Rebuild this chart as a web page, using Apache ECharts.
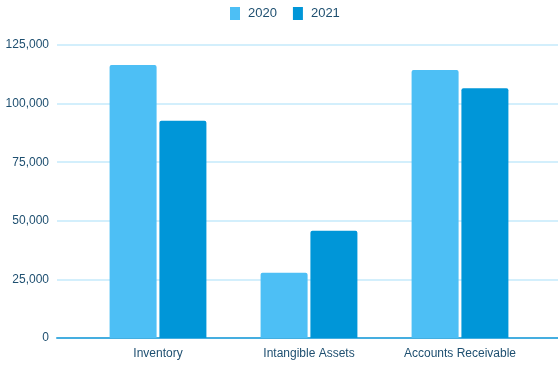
<!DOCTYPE html>
<html>
<head>
<meta charset="utf-8">
<script src="https://cdn.jsdelivr.net/npm/echarts@6/dist/echarts.min.js"></script>
<style>html,body{margin:0;padding:0;background:#fff}#c{width:558px;height:367px}</style>
</head>
<body>
<div id="c"></div>
<script>
var categories = ['Inventory', 'Intangible Assets', 'Accounts Receivable'];
var values2020 = [116500, 27800, 114300];
var values2021 = [92700, 45800, 106500];
var seriesNames = ['2020', '2021'];
var yTicks = { min: 0, max: 125000, interval: 25000 };

var labelColor = '#1e4f70';
var font = 'Liberation Sans, Arial, sans-serif';
var chart = echarts.init(document.getElementById('c'), null, { renderer: 'canvas' });
function fmt(v) { return String(v).replace(/\B(?=(\d{3})+(?!\d))/g, ','); }
chart.setOption({
  animation: false,
  textStyle: { fontFamily: font },
  legend: {
    top: 2, left: 225,
    itemWidth: 10, itemHeight: 13, itemGap: 16,
    icon: 'rect',
    textStyle: { color: labelColor, fontSize: 13, fontFamily: font, padding: [0, 0, 0, 3] },
    data: seriesNames
  },
  grid: [
    { left: 57, right: 0, top: 45, bottom: 29 },
    { left: 82.5, right: 22.5, top: 45, bottom: 29 }
  ],
  xAxis: [
    { gridIndex: 0, type: 'value', min: 0, max: 1,
      axisLine: { show: true, lineStyle: { color: '#45aee0', width: 2 } },
      axisTick: { show: false }, axisLabel: { show: false }, splitLine: { show: false } },
    { gridIndex: 1, type: 'category', data: categories,
      axisLine: { show: false }, axisTick: { show: false },
      axisLabel: { color: labelColor, fontSize: 12, margin: 10, fontFamily: font } }
  ],
  yAxis: [
    { gridIndex: 0, type: 'value', min: yTicks.min, max: yTicks.max, interval: yTicks.interval,
      axisLine: { show: false }, axisTick: { show: false },
      axisLabel: { color: labelColor, fontSize: 12, margin: 8, formatter: fmt, fontFamily: font },
      splitLine: { lineStyle: { color: '#d3effc', width: 2 } } },
    { gridIndex: 1, type: 'value', min: yTicks.min, max: yTicks.max, interval: yTicks.interval, show: false,
      splitLine: { show: false } }
  ],
  series: [
    { name: seriesNames[0], type: 'bar', xAxisIndex: 1, yAxisIndex: 1, data: values2020,
      barWidth: 47, barGap: '6%',
      itemStyle: { color: '#4dbff5', borderRadius: [2, 2, 0, 0] } },
    { name: seriesNames[1], type: 'bar', xAxisIndex: 1, yAxisIndex: 1, data: values2021,
      barWidth: 47, barGap: '6%',
      itemStyle: { color: '#0096d8', borderRadius: [2, 2, 0, 0] } }
  ]
});
</script>
</body>
</html>
